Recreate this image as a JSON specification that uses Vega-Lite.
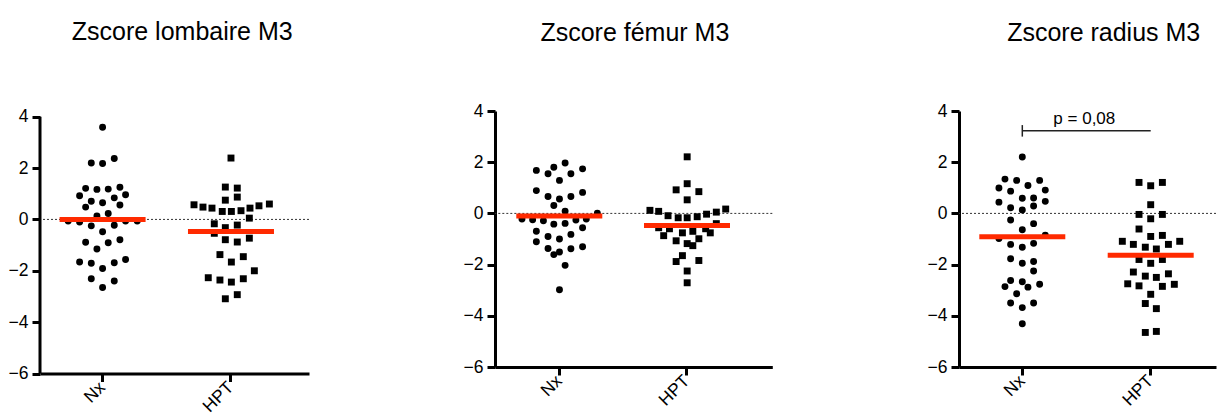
{
  "$schema": "https://vega.github.io/schema/vega-lite/v6.json",
  "background": "white",
  "padding": {"left": 8, "top": 19, "right": 0, "bottom": 0},
  "bounds": "flush",
  "spacing": 186,
  "config": {
    "font": "Liberation Sans",
    "view": {"stroke": null},
    "title": {"font": "Liberation Sans", "fontSize": 25, "fontWeight": "normal", "color": "black", "anchor": "middle", "baseline": "alphabetic"}
  },
  "datasets": {
    "lombaire": [
      {"group": "Nx", "dx": 0, "z": 3.59},
      {"group": "Nx", "dx": -0.088, "z": 2.20}, {"group": "Nx", "dx": 0, "z": 2.18}, {"group": "Nx", "dx": 0.091, "z": 2.37},
      {"group": "Nx", "dx": -0.132, "z": 1.21}, {"group": "Nx", "dx": -0.044, "z": 1.17}, {"group": "Nx", "dx": 0.044, "z": 1.18}, {"group": "Nx", "dx": 0.135, "z": 1.25},
      {"group": "Nx", "dx": -0.179, "z": 0.92}, {"group": "Nx", "dx": 0.179, "z": 0.96},
      {"group": "Nx", "dx": -0.088, "z": 0.71}, {"group": "Nx", "dx": 0, "z": 0.65}, {"group": "Nx", "dx": 0.091, "z": 0.84},
      {"group": "Nx", "dx": -0.132, "z": 0.48}, {"group": "Nx", "dx": 0.135, "z": 0.56},
      {"group": "Nx", "dx": -0.044, "z": 0.13}, {"group": "Nx", "dx": 0.044, "z": 0.23},
      {"group": "Nx", "dx": -0.268, "z": -0.06}, {"group": "Nx", "dx": -0.179, "z": -0.10}, {"group": "Nx", "dx": 0.179, "z": -0.06}, {"group": "Nx", "dx": 0.270, "z": -0.06},
      {"group": "Nx", "dx": -0.088, "z": -0.25}, {"group": "Nx", "dx": 0.091, "z": -0.23},
      {"group": "Nx", "dx": 0, "z": -0.48},
      {"group": "Nx", "dx": -0.132, "z": -0.89}, {"group": "Nx", "dx": 0.044, "z": -0.91}, {"group": "Nx", "dx": 0.135, "z": -0.79},
      {"group": "Nx", "dx": -0.044, "z": -1.15},
      {"group": "Nx", "dx": -0.179, "z": -1.66}, {"group": "Nx", "dx": -0.088, "z": -1.71}, {"group": "Nx", "dx": 0.091, "z": -1.69}, {"group": "Nx", "dx": 0.179, "z": -1.56},
      {"group": "Nx", "dx": 0, "z": -1.91},
      {"group": "Nx", "dx": -0.088, "z": -2.31}, {"group": "Nx", "dx": 0.091, "z": -2.40},
      {"group": "Nx", "dx": 0, "z": -2.65},
      {"group": "HPT", "dx": 0, "z": 2.39},
      {"group": "HPT", "dx": -0.044, "z": 1.26}, {"group": "HPT", "dx": 0.049, "z": 1.22},
      {"group": "HPT", "dx": -0.044, "z": 0.75}, {"group": "HPT", "dx": 0.049, "z": 0.87},
      {"group": "HPT", "dx": -0.288, "z": 0.57}, {"group": "HPT", "dx": -0.218, "z": 0.48}, {"group": "HPT", "dx": -0.148, "z": 0.44}, {"group": "HPT", "dx": -0.068, "z": 0.31}, {"group": "HPT", "dx": 0.003, "z": 0.31}, {"group": "HPT", "dx": 0.078, "z": 0.34}, {"group": "HPT", "dx": 0.148, "z": 0.44}, {"group": "HPT", "dx": 0.218, "z": 0.53}, {"group": "HPT", "dx": 0.299, "z": 0.60},
      {"group": "HPT", "dx": 0.143, "z": 0.05},
      {"group": "HPT", "dx": -0.130, "z": -0.17}, {"group": "HPT", "dx": -0.044, "z": -0.32}, {"group": "HPT", "dx": 0.049, "z": -0.22},
      {"group": "HPT", "dx": -0.130, "z": -0.54}, {"group": "HPT", "dx": -0.044, "z": -0.79}, {"group": "HPT", "dx": 0.049, "z": -0.88}, {"group": "HPT", "dx": 0.143, "z": -0.73},
      {"group": "HPT", "dx": -0.086, "z": -1.37}, {"group": "HPT", "dx": 0.096, "z": -1.45},
      {"group": "HPT", "dx": 0.003, "z": -1.66},
      {"group": "HPT", "dx": 0.182, "z": -2.00},
      {"group": "HPT", "dx": -0.177, "z": -2.27}, {"group": "HPT", "dx": -0.086, "z": -2.36}, {"group": "HPT", "dx": 0.003, "z": -2.44}, {"group": "HPT", "dx": 0.096, "z": -2.31},
      {"group": "HPT", "dx": 0.049, "z": -2.93}, {"group": "HPT", "dx": -0.044, "z": -3.09}
    ],
    "femur": [
      {"group": "Nx", "dx": 0.044, "z": 1.97},
      {"group": "Nx", "dx": -0.044, "z": 1.80}, {"group": "Nx", "dx": 0.089, "z": 1.55}, {"group": "Nx", "dx": 0.180, "z": 1.74}, {"group": "Nx", "dx": -0.180, "z": 1.68}, {"group": "Nx", "dx": -0.089, "z": 1.55},
      {"group": "Nx", "dx": 0, "z": 1.29},
      {"group": "Nx", "dx": -0.180, "z": 0.89}, {"group": "Nx", "dx": 0.180, "z": 0.82},
      {"group": "Nx", "dx": -0.089, "z": 0.66}, {"group": "Nx", "dx": 0, "z": 0.56}, {"group": "Nx", "dx": 0.089, "z": 0.66},
      {"group": "Nx", "dx": -0.044, "z": 0.31},
      {"group": "Nx", "dx": 0.044, "z": 0.09},
      {"group": "Nx", "dx": 0.295, "z": 0.01},
      {"group": "Nx", "dx": -0.292, "z": -0.22}, {"group": "Nx", "dx": -0.209, "z": -0.25}, {"group": "Nx", "dx": -0.125, "z": -0.29}, {"group": "Nx", "dx": 0.128, "z": -0.26}, {"group": "Nx", "dx": 0.209, "z": -0.22},
      {"group": "Nx", "dx": -0.044, "z": -0.42}, {"group": "Nx", "dx": 0.044, "z": -0.39},
      {"group": "Nx", "dx": -0.180, "z": -0.70}, {"group": "Nx", "dx": 0.180, "z": -0.56},
      {"group": "Nx", "dx": 0.089, "z": -0.82},
      {"group": "Nx", "dx": -0.089, "z": -0.90},
      {"group": "Nx", "dx": 0, "z": -1.00},
      {"group": "Nx", "dx": -0.180, "z": -1.11},
      {"group": "Nx", "dx": -0.089, "z": -1.37}, {"group": "Nx", "dx": 0.089, "z": -1.38}, {"group": "Nx", "dx": 0.180, "z": -1.30},
      {"group": "Nx", "dx": 0, "z": -1.51}, {"group": "Nx", "dx": -0.044, "z": -1.61},
      {"group": "Nx", "dx": 0.044, "z": -2.03},
      {"group": "Nx", "dx": 0, "z": -2.98},
      {"group": "HPT", "dx": 0, "z": 2.21},
      {"group": "HPT", "dx": 0, "z": 1.16}, {"group": "HPT", "dx": -0.086, "z": 0.92}, {"group": "HPT", "dx": 0.091, "z": 0.85},
      {"group": "HPT", "dx": 0, "z": 0.53},
      {"group": "HPT", "dx": -0.290, "z": 0.12}, {"group": "HPT", "dx": -0.222, "z": 0.08}, {"group": "HPT", "dx": 0.227, "z": 0.05}, {"group": "HPT", "dx": 0.300, "z": 0.17},
      {"group": "HPT", "dx": -0.149, "z": -0.09}, {"group": "HPT", "dx": -0.070, "z": -0.17}, {"group": "HPT", "dx": 0, "z": -0.17}, {"group": "HPT", "dx": 0.078, "z": -0.13}, {"group": "HPT", "dx": 0.151, "z": -0.03},
      {"group": "HPT", "dx": -0.222, "z": -0.56}, {"group": "HPT", "dx": 0.227, "z": -0.40}, {"group": "HPT", "dx": -0.138, "z": -0.60}, {"group": "HPT", "dx": 0.144, "z": -0.60},
      {"group": "HPT", "dx": -0.183, "z": -0.87}, {"group": "HPT", "dx": -0.037, "z": -0.76}, {"group": "HPT", "dx": 0.044, "z": -0.70}, {"group": "HPT", "dx": 0.180, "z": -0.76},
      {"group": "HPT", "dx": -0.086, "z": -1.07}, {"group": "HPT", "dx": 0.091, "z": -0.99},
      {"group": "HPT", "dx": 0, "z": -1.18}, {"group": "HPT", "dx": 0.044, "z": -1.26},
      {"group": "HPT", "dx": -0.037, "z": -1.65}, {"group": "HPT", "dx": -0.086, "z": -1.88}, {"group": "HPT", "dx": 0.091, "z": -1.84},
      {"group": "HPT", "dx": 0, "z": -2.25},
      {"group": "HPT", "dx": 0, "z": -2.71}
    ],
    "radius": [
      {"group": "Nx", "dx": 0, "z": 2.20},
      {"group": "Nx", "dx": -0.135, "z": 1.34}, {"group": "Nx", "dx": -0.044, "z": 1.29}, {"group": "Nx", "dx": 0.135, "z": 1.29}, {"group": "Nx", "dx": 0.044, "z": 1.09},
      {"group": "Nx", "dx": -0.182, "z": 0.99}, {"group": "Nx", "dx": -0.091, "z": 0.87}, {"group": "Nx", "dx": 0.179, "z": 0.91},
      {"group": "Nx", "dx": 0, "z": 0.59}, {"group": "Nx", "dx": 0.088, "z": 0.60},
      {"group": "Nx", "dx": -0.182, "z": 0.44}, {"group": "Nx", "dx": 0.179, "z": 0.47},
      {"group": "Nx", "dx": 0.088, "z": 0.29},
      {"group": "Nx", "dx": -0.091, "z": 0.22}, {"group": "Nx", "dx": 0, "z": 0.13},
      {"group": "Nx", "dx": -0.091, "z": -0.26},
      {"group": "Nx", "dx": 0.088, "z": -0.40},
      {"group": "Nx", "dx": 0, "z": -0.64},
      {"group": "Nx", "dx": -0.182, "z": -0.98}, {"group": "Nx", "dx": 0.179, "z": -0.85},
      {"group": "Nx", "dx": -0.091, "z": -1.21}, {"group": "Nx", "dx": 0, "z": -1.32}, {"group": "Nx", "dx": 0.088, "z": -1.17},
      {"group": "Nx", "dx": -0.091, "z": -1.77}, {"group": "Nx", "dx": 0, "z": -1.95}, {"group": "Nx", "dx": 0.088, "z": -1.88},
      {"group": "Nx", "dx": 0.088, "z": -2.25},
      {"group": "Nx", "dx": -0.091, "z": -2.62}, {"group": "Nx", "dx": 0, "z": -2.67}, {"group": "Nx", "dx": -0.135, "z": -2.86}, {"group": "Nx", "dx": 0.044, "z": -2.88}, {"group": "Nx", "dx": 0.135, "z": -2.77},
      {"group": "Nx", "dx": -0.044, "z": -3.14},
      {"group": "Nx", "dx": -0.091, "z": -3.50}, {"group": "Nx", "dx": 0.088, "z": -3.50},
      {"group": "Nx", "dx": 0, "z": -3.68},
      {"group": "Nx", "dx": 0, "z": -4.31},
      {"group": "HPT", "dx": -0.091, "z": 1.21}, {"group": "HPT", "dx": 0, "z": 1.08}, {"group": "HPT", "dx": 0.091, "z": 1.21},
      {"group": "HPT", "dx": 0, "z": 0.34},
      {"group": "HPT", "dx": -0.091, "z": -0.04}, {"group": "HPT", "dx": 0.091, "z": -0.04},
      {"group": "HPT", "dx": 0, "z": -0.21},
      {"group": "HPT", "dx": -0.091, "z": -0.61},
      {"group": "HPT", "dx": 0, "z": -0.90}, {"group": "HPT", "dx": 0.091, "z": -0.86},
      {"group": "HPT", "dx": -0.221, "z": -1.09}, {"group": "HPT", "dx": -0.135, "z": -1.21}, {"group": "HPT", "dx": -0.042, "z": -1.32}, {"group": "HPT", "dx": 0.044, "z": -1.39}, {"group": "HPT", "dx": 0.138, "z": -1.21}, {"group": "HPT", "dx": 0.226, "z": -1.09},
      {"group": "HPT", "dx": -0.091, "z": -1.80}, {"group": "HPT", "dx": 0.091, "z": -1.80}, {"group": "HPT", "dx": 0, "z": -1.95},
      {"group": "HPT", "dx": -0.135, "z": -2.29}, {"group": "HPT", "dx": -0.042, "z": -2.45}, {"group": "HPT", "dx": 0.044, "z": -2.50}, {"group": "HPT", "dx": 0.138, "z": -2.36},
      {"group": "HPT", "dx": -0.179, "z": -2.75}, {"group": "HPT", "dx": -0.091, "z": -2.83}, {"group": "HPT", "dx": 0.091, "z": -2.85}, {"group": "HPT", "dx": 0.184, "z": -2.77},
      {"group": "HPT", "dx": 0, "z": -3.16},
      {"group": "HPT", "dx": -0.042, "z": -3.52}, {"group": "HPT", "dx": 0.044, "z": -3.72},
      {"group": "HPT", "dx": -0.042, "z": -4.65}, {"group": "HPT", "dx": 0.044, "z": -4.61}
    ],
    "lombaire_med": [{"group": "Nx", "z": 0.0}, {"group": "HPT", "z": -0.47}],
    "femur_med": [{"group": "Nx", "z": -0.10}, {"group": "HPT", "z": -0.47}],
    "radius_med": [{"group": "Nx", "z": -0.91}, {"group": "HPT", "z": -1.63}],
    "one": [{"label": "p = 0,08"}]
  },
  "hconcat": [
    {
      "width": 269,
      "height": 262.5,
      "title": {"text": "Zscore lombaire M3", "dx": 7.7, "offset": 63},
      "layer": [
        {"data": {"name": "one"}, "mark": {"type": "rule", "strokeDash": [2, 2], "strokeWidth": 1, "color": "#333333"},
         "encoding": {"y": {"datum": 0, "type": "quantitative", "scale": {"domain": [-6, 4.222], "nice": false, "zero": false},
           "axis": {"values": [-6, -4, -2, 0, 2, 4], "title": null, "grid": false, "domain": false, "tickColor": "black", "tickWidth": 3, "tickSize": 8, "labelFont": "Liberation Sans", "labelFontSize": 17.5, "labelColor": "black", "labelPadding": 4}}}},
        {"data": {"name": "one"}, "mark": {"type": "rule", "strokeWidth": 3, "color": "black"},
         "encoding": {"x": {"datum": "Nx", "type": "nominal", "bandPosition": -0.4748}, "y": {"datum": -6, "type": "quantitative"}, "y2": {"datum": 4}}},
        {"data": {"name": "lombaire"}, "mark": {"type": "point", "filled": true, "size": 48, "opacity": 1, "color": "black"},
         "encoding": {
           "x": {"field": "group", "type": "nominal", "scale": {"domain": ["Nx", "HPT"], "paddingInner": 0.5, "paddingOuter": 0.2975, "align": 0.399},
             "axis": {"title": null, "domainColor": "black", "domainWidth": 3, "tickColor": "black", "tickWidth": 3, "tickSize": 8, "labelFont": "Liberation Sans", "labelFontSize": 17.5, "labelColor": "black", "labelAngle": -45, "labelAlign": "right", "labelBaseline": "middle", "labelPadding": 3}},
           "xOffset": {"field": "dx", "type": "quantitative", "scale": {"domain": [-0.25, 0.25], "nice": false, "zero": false}},
           "y": {"field": "z", "type": "quantitative"},
           "shape": {"field": "group", "type": "nominal", "scale": {"domain": ["Nx", "HPT"], "range": ["circle", "square"]}, "legend": null}
         }},
        {"data": {"name": "lombaire_med"}, "mark": {"type": "tick", "orient": "horizontal", "color": "#ff2a00", "opacity": 1, "size": 86, "thickness": 5},
         "encoding": {"x": {"field": "group", "type": "nominal"}, "y": {"field": "z", "type": "quantitative"}}}
      ]
    },
    {
      "width": 277.3,
      "height": 256,
      "title": {"text": "Zscore fémur M3", "dx": 1.2, "offset": 56.5},
      "layer": [
        {"data": {"name": "one"}, "mark": {"type": "rule", "strokeDash": [2, 2], "strokeWidth": 1, "color": "#333333"},
         "encoding": {"y": {"datum": 0, "type": "quantitative", "scale": {"domain": [-6, 4], "nice": false, "zero": false},
           "axis": {"values": [-6, -4, -2, 0, 2, 4], "title": null, "grid": false, "domainColor": "black", "domainWidth": 3, "tickColor": "black", "tickWidth": 3, "tickSize": 8, "labelFont": "Liberation Sans", "labelFontSize": 17.5, "labelColor": "black", "labelPadding": 4}}}},
        {"data": {"name": "femur"}, "mark": {"type": "point", "filled": true, "size": 48, "opacity": 1, "color": "black"},
         "encoding": {
           "x": {"field": "group", "type": "nominal", "scale": {"domain": ["Nx", "HPT"], "paddingInner": 0.5, "paddingOuter": 0.3357, "align": 0.3775},
             "axis": {"title": null, "domainColor": "black", "domainWidth": 3, "tickColor": "black", "tickWidth": 3, "tickSize": 8, "labelFont": "Liberation Sans", "labelFontSize": 17.5, "labelColor": "black", "labelAngle": -45, "labelAlign": "right", "labelBaseline": "middle", "labelPadding": 3}},
           "xOffset": {"field": "dx", "type": "quantitative", "scale": {"domain": [-0.25, 0.25], "nice": false, "zero": false}},
           "y": {"field": "z", "type": "quantitative"},
           "shape": {"field": "group", "type": "nominal", "scale": {"domain": ["Nx", "HPT"], "range": ["circle", "square"]}, "legend": null}
         }},
        {"data": {"name": "femur_med"}, "mark": {"type": "tick", "orient": "horizontal", "color": "#ff2a00", "opacity": 1, "size": 86, "thickness": 5},
         "encoding": {"x": {"field": "group", "type": "nominal"}, "y": {"field": "z", "type": "quantitative"}}}
      ]
    },
    {
      "width": 257,
      "height": 256,
      "title": {"text": "Zscore radius M3", "dx": 16.2, "offset": 56.5},
      "layer": [
        {"data": {"name": "one"}, "mark": {"type": "rule", "strokeDash": [2, 2], "strokeWidth": 1, "color": "#333333"},
         "encoding": {"y": {"datum": 0, "type": "quantitative", "scale": {"domain": [-6, 4], "nice": false, "zero": false},
           "axis": {"values": [-6, -4, -2, 0, 2, 4], "title": null, "grid": false, "domainColor": "black", "domainWidth": 3, "tickColor": "black", "tickWidth": 3, "tickSize": 8, "labelFont": "Liberation Sans", "labelFontSize": 17.5, "labelColor": "black", "labelPadding": 4}}}},
        {"data": {"name": "radius"}, "mark": {"type": "point", "filled": true, "size": 48, "opacity": 1, "color": "black"},
         "encoding": {
           "x": {"field": "group", "type": "nominal", "scale": {"domain": ["Nx", "HPT"], "paddingInner": 0.5, "paddingOuter": 0.2508, "align": 0.4845},
             "axis": {"title": null, "domainColor": "black", "domainWidth": 3, "tickColor": "black", "tickWidth": 3, "tickSize": 8, "labelFont": "Liberation Sans", "labelFontSize": 17.5, "labelColor": "black", "labelAngle": -45, "labelAlign": "right", "labelBaseline": "middle", "labelPadding": 3}},
           "xOffset": {"field": "dx", "type": "quantitative", "scale": {"domain": [-0.25, 0.25], "nice": false, "zero": false}},
           "y": {"field": "z", "type": "quantitative"},
           "shape": {"field": "group", "type": "nominal", "scale": {"domain": ["Nx", "HPT"], "range": ["circle", "square"]}, "legend": null}
         }},
        {"data": {"name": "radius_med"}, "mark": {"type": "tick", "orient": "horizontal", "color": "#ff2a00", "opacity": 1, "size": 86, "thickness": 5},
         "encoding": {"x": {"field": "group", "type": "nominal"}, "y": {"field": "z", "type": "quantitative"}}},
        {"data": {"name": "one"}, "mark": {"type": "rule", "strokeWidth": 1.5, "color": "#222222"},
         "encoding": {"x": {"datum": "Nx", "type": "nominal"}, "x2": {"datum": "HPT"}, "y": {"datum": 3.23, "type": "quantitative"}}},
        {"data": {"name": "one"}, "mark": {"type": "rule", "strokeWidth": 1.5, "color": "#222222"},
         "encoding": {"x": {"datum": "Nx", "type": "nominal"}, "y": {"datum": 3.0, "type": "quantitative"}, "y2": {"datum": 3.45}}},
        {"data": {"name": "one"}, "mark": {"type": "text", "fontSize": 17, "font": "Liberation Sans", "color": "black", "align": "center", "baseline": "alphabetic", "dx": 62},
         "encoding": {"x": {"datum": "Nx", "type": "nominal"}, "y": {"datum": 3.48, "type": "quantitative"}, "text": {"field": "label", "type": "nominal"}}}
      ]
    }
  ]
}
